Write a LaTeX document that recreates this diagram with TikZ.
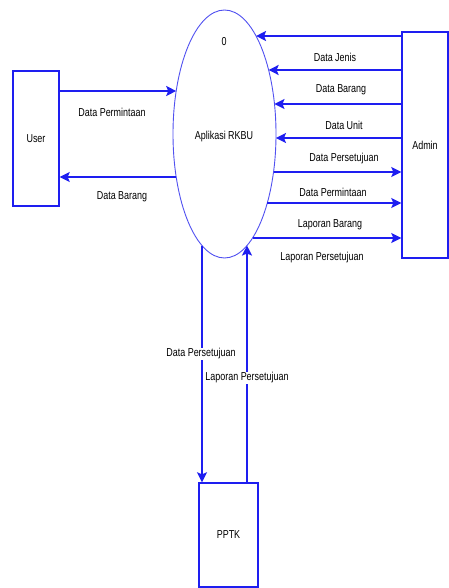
\documentclass[tikz,border=0pt]{standalone}
\usepackage{fontspec}
\setmainfont[FakeStretch=0.78]{Liberation Sans}
\usetikzlibrary{arrows.meta, shapes.geometric}
\definecolor{dfdblue}{RGB}{30,30,240}
\definecolor{ovalblue}{RGB}{80,80,240}

\begin{document}
\begin{tikzpicture}[x=1pt, y=-1pt,
    font=\fontsize{11.5}{13}\selectfont,
    entity/.style={draw=dfdblue, line width=1.4pt, rectangle, inner sep=0pt},
    flow/.style={draw=dfdblue, line width=1.7pt, -{Stealth[length=10pt, width=10pt, inset=2pt]}},
    lbl/.style={inner sep=1pt},
    vlbl/.style={inner sep=1pt, fill=white}]
  % --- 1. picture frame ---
  \useasboundingbox (0,0) rectangle (449,588);

  % --- 2. process: center and radii ---
  \def\cx{224.5}
  \def\cy{134}
  \def\rx{51.5}
  \def\ry{124}
  \node[ellipse, draw=ovalblue, line width=0.9pt, minimum width=103pt,
        minimum height=248pt, inner sep=0pt] (app) at (\cx,\cy) {};
  \node (appno) at (224,42) {0};
  \node (appname) at (224,137) {Aplikasi RKBU};

  % --- 3. external entities ---
  \node[entity, minimum width=46pt, minimum height=226pt] (admin) at (425,145) {Admin};
  \node[entity, minimum width=46pt, minimum height=135pt] (user) at (36,138.5) {User};
  \node[entity, minimum width=59pt, minimum height=104pt] (pptk) at (228.5,535) {PPTK};

  % --- 4. points on the ellipse (right, left, bottom) ---
  \foreach \y [count=\i] in {36,70,104,138,172,203,238} {
    \pgfmathsetmacro{\ex}{\cx+\rx*sqrt(1-((\y-\cy)/\ry)^2)}
    \coordinate (r\i) at (\ex,\y);
  }
  \foreach \y [count=\i] in {91,177} {
    \pgfmathsetmacro{\ex}{\cx-\rx*sqrt(1-((\y-\cy)/\ry)^2)}
    \coordinate (l\i) at (\ex,\y);
  }
  \foreach \x [count=\i] in {202,247} {
    \pgfmathsetmacro{\ey}{\cy+\ry*sqrt(1-((\x-\cx)/\rx)^2)}
    \coordinate (b\i) at (\x,\ey);
  }

  % --- 5. flows Admin <-> process ---
  \foreach \i in {1,...,4}
    \draw[flow] (admin.west |- r\i) -- (r\i);
  \foreach \i in {5,6,7}
    \draw[flow] (r\i) -- (admin.west |- r\i);

  % --- 6. flows User <-> process ---
  \draw[flow] (user.east |- l1) -- (l1);
  \draw[flow] (l2) -- (user.east |- l2);

  % --- 7. flows PPTK <-> process ---
  \draw[flow] (b1) -- (b1 |- pptk.north);
  \draw[flow] (b2 |- pptk.north) -- (b2);

  % --- 8. labels ---
  \node[lbl] (fjenis) at (335,57) {Data Jenis};
  \node[lbl] (fbarang) at (341,90) {Data Barang};
  \node[lbl] (funit) at (344,125) {Data Unit};
  \node[lbl] (fsetuju) at (344,159) {Data Persetujuan};
  \node[lbl] (fminta) at (333,192) {Data Permintaan};
  \node[lbl] (flapbrg) at (330,225) {Laporan Barang};
  \node[lbl] (flapsetuju) at (322,258) {Laporan Persetujuan};
  \node[lbl] (uminta) at (112,112) {Data Permintaan};
  \node[lbl] (ubarang) at (122,197) {Data Barang};
  \node[vlbl] (psetuju) at (201,354) {Data Persetujuan};
  \node[vlbl] (plapor) at (247,378) {Laporan Persetujuan};
\end{tikzpicture}
\end{document}
